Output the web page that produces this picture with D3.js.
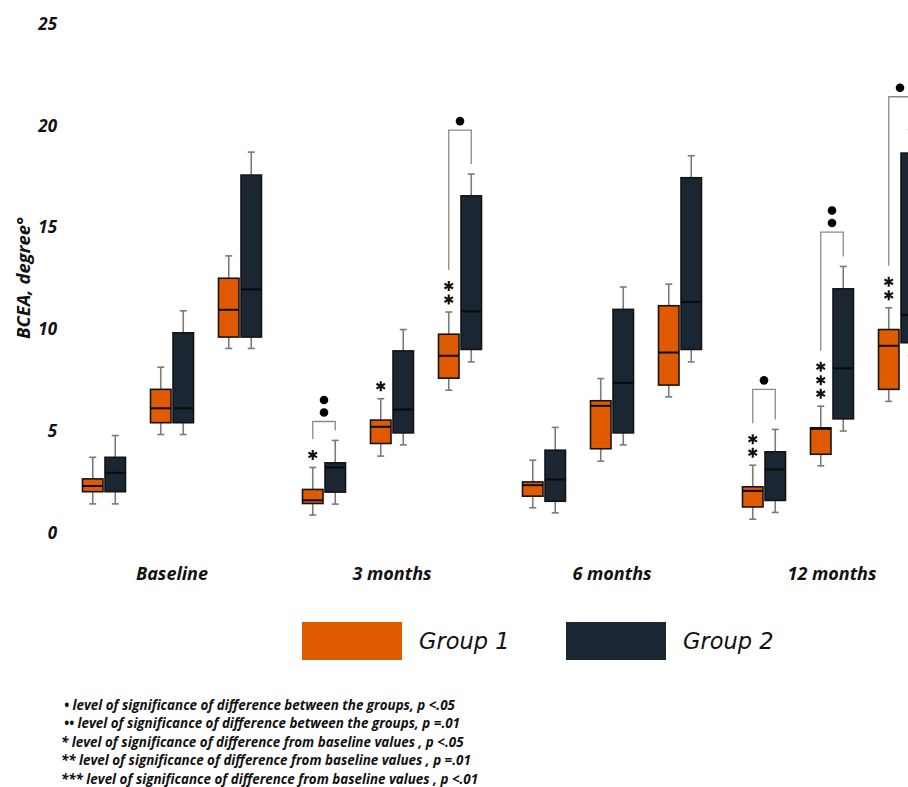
<!DOCTYPE html>
<html>
<head>
<meta charset="utf-8">
<script src="https://cdn.jsdelivr.net/npm/d3@7"></script>
<style>
  body { margin: 0; background: #fff; }
  svg { display: block; font-family: "Open Sans", "DejaVu Sans", sans-serif; }
</style>
</head>
<body>
<svg id="chart" width="908" height="787"></svg>
<script>
// Time points and the three sub-samples measured at each of them
const categories = ["Baseline", "3 months", "6 months", "12 months"];
const subsets = [0, 1, 2];
const seriesNames = ["Group 1", "Group 2"];
const seriesColors = ["#e05a00", "#1b2633"];
const yTicks = [0, 5, 10, 15, 20, 25];

// Box statistics [min, q1, median, q3, max], ordered category by category, subset by subset
const group1Stats = [
  [1.41, 2.01, 2.29, 2.64, 3.70],
  [4.82, 5.40, 6.11, 7.04, 8.13],
  [9.05, 9.61, 10.95, 12.50, 13.60],
  [0.86, 1.43, 1.59, 2.12, 3.20],
  [3.76, 4.38, 5.20, 5.53, 6.58],
  [7.00, 7.59, 8.69, 9.75, 10.84],
  [1.22, 1.79, 2.33, 2.49, 3.56],
  [3.51, 4.12, 6.23, 6.48, 7.57],
  [6.67, 7.25, 8.85, 11.15, 12.21],
  [0.66, 1.26, 2.05, 2.25, 3.31],
  [3.28, 3.85, 5.10, 5.15, 6.21],
  [6.45, 7.04, 9.18, 9.98, 11.05]
];
const group2Stats = [
  [1.41, 2.01, 2.94, 3.70, 4.77],
  [4.82, 5.40, 6.11, 9.82, 10.90],
  [9.05, 9.61, 11.95, 17.57, 18.70],
  [1.40, 1.99, 3.20, 3.43, 4.53],
  [4.31, 4.90, 6.05, 8.93, 9.98],
  [8.39, 9.00, 10.87, 16.55, 17.62],
  [0.97, 1.54, 2.61, 4.05, 5.17],
  [4.31, 4.90, 7.36, 10.97, 12.07],
  [8.39, 9.00, 11.34, 17.44, 18.52],
  [0.99, 1.58, 3.10, 3.97, 5.07],
  [4.99, 5.59, 8.07, 11.98, 13.08],
  [8.70, 9.33, 10.69, 18.65, 19.80]
];

// Significance: dots = between-group difference, asterisks = change from baseline (Group 1)
const betweenGroupDots = [0, 0, 0, 2, 0, 1, 0, 0, 0, 1, 2, 1];
const fromBaselineStars = [0, 0, 0, 1, 1, 2, 0, 0, 0, 2, 3, 2];
const bracketLevels = [null, null, null, 5.46, null, 19.78, null, null, null, 7.04, 14.77, 21.42];

const footnotes = [
  "\u2022 level of significance of difference between the groups, p <.05",
  "\u2022\u2022 level of significance of difference between the groups, p =.01",
  "* level of significance of difference from baseline values , p <.05",
  "** level of significance of difference from baseline values , p =.01",
  "*** level of significance of difference from baseline values , p <.01"
];

const svg = d3.select("#chart");

const y = d3.scaleLinear().domain([0, 25]).range([532.6, 23.9]);
const x = d3.scaleBand().domain(categories).range([62, 942]).padding(0);
const sub = d3.scalePoint().domain(subsets).range([-68, 68]);

const boxW = 20.5, gap = 1, capW = 7;
const slotCenter = (ci, si) => x(categories[ci]) + x.bandwidth() / 2 + sub(si);

// Y axis labels only (no line, no ticks)
const yAxis = svg.append("g")
  .attr("transform", "translate(60,0)")
  .call(d3.axisLeft(y).tickValues(yTicks).tickSize(0).tickPadding(3).tickFormat(d3.format("d")));
yAxis.select(".domain").remove();
yAxis.selectAll("text")
  .attr("font-family", "'Open Sans', sans-serif")
  .attr("font-size", 17)
  .attr("font-weight", "bold")
  .attr("font-style", "italic")
  .attr("fill", "#111");

svg.append("text")
  .attr("transform", "translate(29.5,278) rotate(-90)")
  .attr("text-anchor", "middle")
  .attr("font-size", 18.5)
  .attr("font-weight", "bold")
  .attr("font-style", "italic")
  .attr("fill", "#111")
  .text("BCEA, degree\u00b0");

// Category labels
svg.append("g").selectAll("text")
  .data(categories)
  .join("text")
  .attr("x", d => x(d) + x.bandwidth() / 2)
  .attr("y", 580)
  .attr("text-anchor", "middle")
  .attr("font-size", 18)
  .attr("font-weight", "bold")
  .attr("font-style", "italic")
  .attr("fill", "#111")
  .text(d => d);

// Boxes
const slots = [];
categories.forEach((c, ci) => subsets.forEach(si => {
  const i = ci * 3 + si;
  slots.push({ i, cx: slotCenter(ci, si) });
}));

const whiskerStyle = sel => sel.attr("stroke", "#7a7a7a").attr("stroke-width", 1.6);

[group1Stats, group2Stats].forEach((stats, gi) => {
  const g = svg.append("g");
  slots.forEach(s => {
    const [mn, q1, md, q3, mx] = stats[s.i];
    const left = gi === 0 ? s.cx - gap - boxW : s.cx + gap;
    const mid = left + boxW / 2;
    const b = g.append("g");
    // whiskers with end caps
    b.append("line").attr("x1", mid).attr("x2", mid).attr("y1", y(q3)).attr("y2", y(mx)).call(whiskerStyle);
    b.append("line").attr("x1", mid).attr("x2", mid).attr("y1", y(q1)).attr("y2", y(mn)).call(whiskerStyle);
    b.append("line").attr("x1", mid - capW / 2).attr("x2", mid + capW / 2).attr("y1", y(mx)).attr("y2", y(mx)).call(whiskerStyle);
    b.append("line").attr("x1", mid - capW / 2).attr("x2", mid + capW / 2).attr("y1", y(mn)).attr("y2", y(mn)).call(whiskerStyle);
    // interquartile box
    b.append("rect").attr("x", left).attr("y", y(q3)).attr("width", boxW).attr("height", y(q1) - y(q3))
      .attr("fill", seriesColors[gi]).attr("stroke", "#141414").attr("stroke-width", 1.6);
    // median
    b.append("line").attr("x1", left).attr("x2", left + boxW).attr("y1", y(md)).attr("y2", y(md))
      .attr("stroke", "#0a0a0a").attr("stroke-width", 2);
  });
});

// Significance marks
const ann = svg.append("g");
const starStep = 13.5;
const starPath = d3.symbol(d3.symbolAsterisk, 68)();
slots.forEach(s => {
  const g1 = group1Stats[s.i], g2 = group2Stats[s.i];
  const x1 = s.cx - gap - boxW / 2;
  const x2 = s.cx + gap + boxW / 2;
  const nStars = fromBaselineStars[s.i];
  // asterisk markers stacked above the Group 1 upper whisker
  d3.range(nStars).forEach(k => {
    ann.append("path")
      .attr("d", starPath)
      .attr("transform", `translate(${x1},${y(g1[4]) - 12.5 - starStep * k})`)
      .attr("fill", "none")
      .attr("stroke", "#111")
      .attr("stroke-width", 2.1);
  });
  const nDots = betweenGroupDots[s.i];
  if (nDots > 0) {
    const top = y(bracketLevels[s.i]);
    const leftBottom = y(g1[4]) - 12.5 - starStep * (nStars - 1) - 16;
    const rightBottom = y(g2[4]) - 10;
    ann.append("path")
      .attr("d", `M${x1},${leftBottom}V${top}H${x2}V${rightBottom}`)
      .attr("fill", "none")
      .attr("stroke", "#8a8a8a")
      .attr("stroke-width", 1.3);
    for (let k = 0; k < nDots; k++) {
      ann.append("circle")
        .attr("cx", (x1 + x2) / 2)
        .attr("cy", top - 9 - 12.5 * k)
        .attr("r", 4.3)
        .attr("fill", "#000");
    }
  }
});

// Legend
const legend = svg.append("g");
const legendX = [302, 566];
seriesNames.forEach((name, i) => {
  legend.append("rect")
    .attr("x", legendX[i]).attr("y", 622)
    .attr("width", 100).attr("height", 38)
    .attr("fill", seriesColors[i]);
  legend.append("text")
    .attr("x", legendX[i] + 117).attr("y", 649)
    .attr("font-family", "'DejaVu Sans', sans-serif")
    .attr("font-size", 22.5)
    .attr("font-style", "italic")
    .attr("fill", "#111")
    .text(name);
});

// Footnotes
svg.append("g").selectAll("text")
  .data(footnotes)
  .join("text")
  .attr("x", (d, i) => i < 2 ? 64 : 61)
  .attr("y", (d, i) => 710 + 18.4 * i)
  .attr("font-size", 13.4)
  .attr("font-weight", "bold")
  .attr("font-style", "italic")
  .attr("fill", "#111")
  .text(d => d);
</script>
</body>
</html>
